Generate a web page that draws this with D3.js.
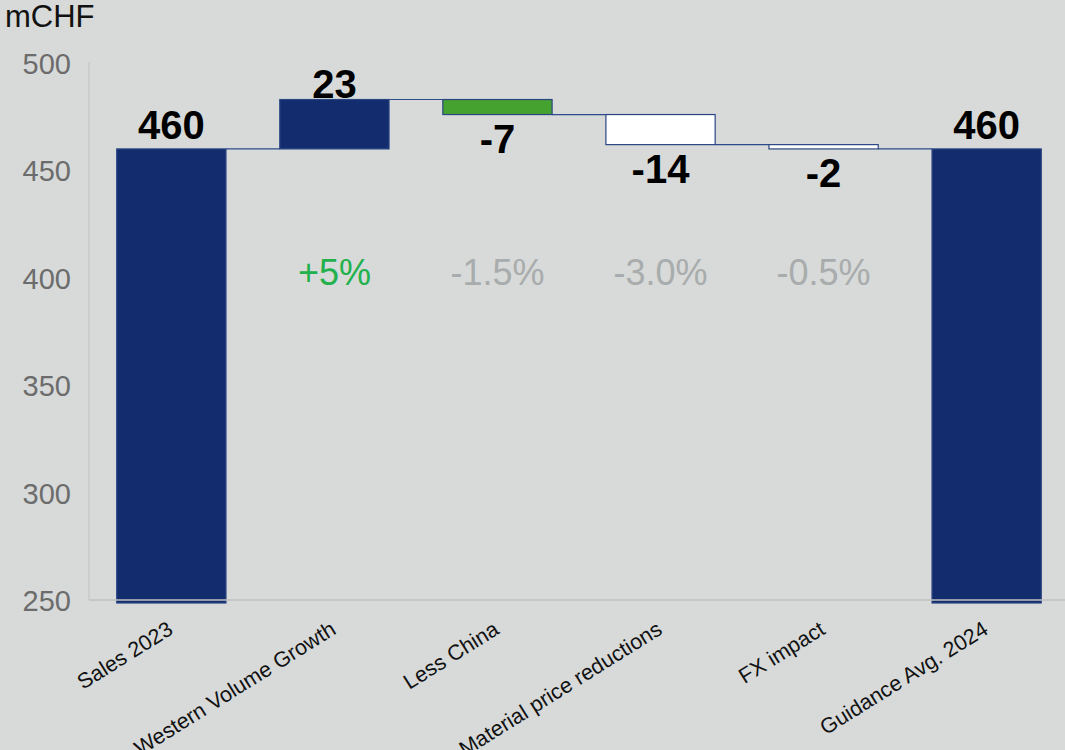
<!DOCTYPE html>
<html><head><meta charset="utf-8">
<script src="https://cdn.jsdelivr.net/npm/d3@7"></script>
<style>
html,body{margin:0;padding:0;background:#d7dad9;}
svg{display:block;font-family:"Liberation Sans",Arial,sans-serif;}
</style></head>
<body>
<svg id="chart" width="1065" height="750"></svg>
<script>
const categories = ["Sales 2023","Western Volume Growth","Less China","Material price reductions","FX impact","Guidance Avg. 2024"];
const values = [460, 23, -7, -14, -2, 460];
const kinds = ["total","delta","delta","delta","delta","total"];
const pctLabels = ["", "+5%", "-1.5%", "-3.0%", "-0.5%", ""];
const yTicks = [250, 300, 350, 400, 450, 500];
const unitLabel = "mCHF";

const navy = "#132c6e", green = "#46a22f", white = "#ffffff";
const fills = ["navy","navy","green","white","white","navy"];
const fillMap = {navy, green, white};

const svg = d3.select("#chart");
const x = d3.scaleBand().domain(categories).range([89, 1069]).paddingInner(0.33).paddingOuter(0.17);
const y = d3.scaleLinear().domain([250, 500]).range([600, 63]);

let cum = 0;
const segs = categories.map((c, i) => {
  let lo, hi, end;
  if (kinds[i] === "total") { lo = 250; hi = values[i]; end = values[i]; }
  else { const s = cum; end = cum + values[i]; lo = Math.min(s, end); hi = Math.max(s, end); }
  cum = end;
  return {c, i, lo, hi, end, v: values[i], kind: kinds[i]};
});

svg.append("line").attr("x1", 89).attr("x2", 89).attr("y1", 62).attr("y2", 600)
  .attr("stroke", "#c4c6c6").attr("stroke-width", 1.2);

svg.append("g").selectAll("text").data(yTicks).join("text")
  .attr("x", 71).attr("y", d => y(d)).attr("dy", "0.38em")
  .attr("text-anchor", "end").attr("font-size", 29).attr("fill", "#6c6c6c")
  .text(d => d);

svg.append("text").attr("x", 5).attr("y", 27).attr("font-size", 31).attr("fill", "#111").text(unitLabel);

svg.append("g").selectAll("line").data(segs.slice(0, -1)).join("line")
  .attr("x1", d => x(d.c) + x.bandwidth())
  .attr("x2", d => x(categories[d.i + 1]))
  .attr("y1", d => y(d.end)).attr("y2", d => y(d.end))
  .attr("stroke", "#2d4a8c").attr("stroke-width", 1.2);

svg.append("g").selectAll("rect").data(segs).join("rect")
  .attr("x", d => x(d.c)).attr("width", x.bandwidth())
  .attr("y", d => y(d.hi))
  .attr("height", d => (d.kind === "total" ? y(d.lo) + 3 : y(d.lo)) - y(d.hi))
  .attr("fill", d => fillMap[fills[d.i]])
  .attr("stroke", "#2a4583").attr("stroke-width", 1.2);

svg.append("line").attr("x1", 89).attr("x2", 1065).attr("y1", 600).attr("y2", 600)
  .attr("stroke", "#bfc1c1").attr("stroke-width", 1.5);

svg.append("g").selectAll("text").data(segs).join("text")
  .attr("x", d => x(d.c) + x.bandwidth() / 2)
  .attr("y", d => d.kind === "total" ? y(d.hi) - 10 : (d.v >= 0 ? y(d.hi) - 2 : y(d.lo) + 38))
  .attr("text-anchor", "middle").attr("font-size", 40).attr("font-weight", "bold").attr("fill", "#000")
  .text(d => d.v);

svg.append("g").selectAll("text").data(segs.filter(d => pctLabels[d.i])).join("text")
  .attr("x", d => x(d.c) + x.bandwidth() / 2)
  .attr("y", y(400) - 6).attr("dy", "0.36em")
  .attr("text-anchor", "middle").attr("font-size", 36)
  .attr("fill", d => pctLabels[d.i].startsWith("+") ? "#22b14c" : "#a9acac")
  .text(d => pctLabels[d.i]);

svg.append("g").selectAll("text").data(categories).join("text")
  .attr("transform", d => `translate(${x(d) + x.bandwidth() / 2 + 3},${633}) rotate(-32)`)
  .attr("text-anchor", "end").attr("font-size", 21.5).attr("fill", "#111")
  .text(d => d);
</script>
</body></html>
